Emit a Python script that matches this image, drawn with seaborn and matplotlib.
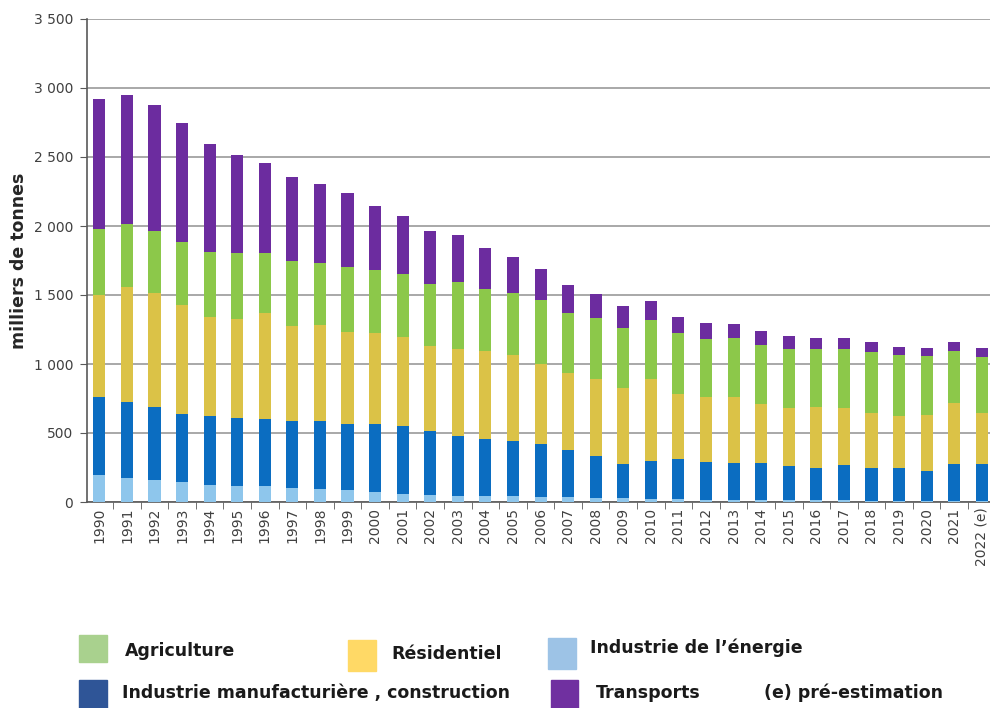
import numpy as np
import pandas as pd
import matplotlib
matplotlib.use("Agg")
import matplotlib.pyplot as plt
from matplotlib.patches import Rectangle
from matplotlib.ticker import FuncFormatter, FixedLocator
import seaborn as sns

# Data (milliers de tonnes)
years = [str(y) for y in range(1990, 2022)] + ["2022 (e)"]
energie = [194, 174, 157, 143, 126, 119, 116, 104, 94, 88, 71, 60, 52, 47, 42, 40,
           35, 35, 30, 28, 25, 20, 18, 16, 14, 12, 12, 11, 10, 10, 9, 10, 9]
manufacture = [568, 552, 532, 493, 496, 493, 482, 482, 492, 479, 496, 488, 460, 431, 412, 399,
               382, 339, 302, 249, 272, 288, 272, 270, 265, 250, 238, 258, 237, 237, 218, 262, 263]
residentiel = [738, 834, 823, 791, 716, 712, 769, 689, 696, 665, 658, 648, 616, 634, 638, 624,
               586, 561, 562, 552, 592, 472, 470, 474, 430, 418, 437, 411, 397, 379, 404, 448, 372]
agriculture = [477, 455, 452, 460, 472, 478, 435, 472, 452, 472, 455, 453, 450, 483, 450, 452,
               459, 431, 440, 432, 433, 448, 424, 432, 431, 430, 423, 430, 443, 437, 425, 374, 405]
transports = [943, 931, 913, 859, 781, 709, 656, 607, 570, 533, 467, 425, 385, 339, 300, 262,
              230, 205, 172, 158, 133, 114, 116, 96, 97, 91, 82, 82, 73, 61, 60, 66, 67]

# stacking order bottom -> top
sectors = ["energie", "manufacture", "residentiel", "agriculture", "transports"]
bar_colors = {
    "energie": "#8ec6ec",
    "manufacture": "#0b6dc1",
    "residentiel": "#dbc247",
    "agriculture": "#8cc84a",
    "transports": "#6c2c9f",
}

df = pd.DataFrame({
    "annee": years,
    "energie": energie,
    "manufacture": manufacture,
    "residentiel": residentiel,
    "agriculture": agriculture,
    "transports": transports,
})
cum = df[sectors].cumsum(axis=1)

fig = plt.figure(figsize=(9.9, 7.08), dpi=100)
ax = fig.add_axes([87 / 990, 1 - 502 / 708, 903 / 990, (502 - 19) / 708])

# draw cumulative totals from top down so shorter bars overlay taller ones
for s in reversed(sectors):
    sns.barplot(x=df["annee"], y=cum[s], order=years, color=bar_colors[s],
                width=0.44, saturation=1, ax=ax, edgecolor="none", zorder=3)

ax.set_ylim(0, 3500)
ax.set_xlim(-0.45, len(years) - 0.7)
ax.set_yticks(np.arange(0, 3501, 500))
ax.yaxis.set_major_formatter(FuncFormatter(lambda v, p: f"{int(v):,}".replace(",", " ")))
ax.grid(axis="y", color="#a8a8a8", linewidth=1.4, zorder=0)
ax.grid(axis="x", visible=False)
ax.set_axisbelow(True)

for sp in ["top", "right"]:
    ax.spines[sp].set_visible(False)
ax.spines["left"].set_color("#595959")
ax.spines["bottom"].set_color("#595959")
ax.spines["left"].set_linewidth(1.2)
ax.spines["bottom"].set_linewidth(1.2)

ax.xaxis.set_minor_locator(FixedLocator(np.arange(-0.5, len(years), 1)))
ax.tick_params(axis="x", which="major", length=0, labelsize=10, labelcolor="#404040",
               rotation=90, pad=4)
ax.tick_params(axis="x", which="minor", length=5, color="#595959")
ax.tick_params(axis="y", length=5, color="#595959", labelsize=10, labelcolor="#404040",
               pad=5)
ax.set_xlabel("")
ax.set_ylabel("milliers de tonnes", fontsize=12.5, fontweight="bold", color="#262626")
ax.yaxis.set_label_coords((28 - 87) / 903, 0.5)

# custom legend at the bottom (patch box in pixels, text anchor in pixels)
legend_items = [
    ("Agriculture", "#a9d18e", (79, 635, 28, 27), (125, 651)),
    ("Résidentiel", "#ffd966", (348, 640, 28, 31), (391, 654)),
    ("Industrie de l’énergie", "#9dc3e6", (548, 638, 28, 31), (590, 648)),
    ("Industrie manufacturière , construction", "#2f5597", (79, 680, 28, 28), (122, 693)),
    ("Transports", "#7030a0", (551, 680, 27, 28), (596, 693)),
]
for label, col, (px, py, pw, ph), (tx, ty) in legend_items:
    fig.add_artist(Rectangle((px / 990, 1 - (py + ph) / 708), pw / 990, ph / 708,
                             transform=fig.transFigure, color=col))
    fig.text(tx / 990, 1 - ty / 708, label, fontsize=12.5, fontweight="bold",
             color="#1a1a1a", va="center", ha="left")
fig.text(764 / 990, 1 - 693 / 708, "(e) pré-estimation", fontsize=12.5,
         fontweight="bold", color="#1a1a1a", va="center", ha="left")

fig.savefig("out.png", dpi=100)
